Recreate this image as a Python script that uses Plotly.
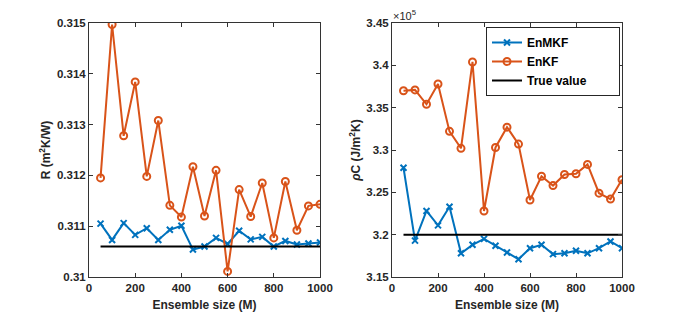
import plotly.graph_objects as go

ensemble = [50, 100, 150, 200, 250, 300, 350, 400, 450, 500,
            550, 600, 650, 700, 750, 800, 850, 900, 950, 1000]

r_enkf = [0.31195, 0.31497, 0.31278, 0.31384, 0.31198, 0.31308, 0.31141, 0.31118, 0.31217, 0.31120,
          0.31210, 0.31011, 0.31172, 0.31119, 0.31185, 0.31077, 0.31188, 0.31092, 0.31140, 0.31143]
r_enmkf = [0.31105, 0.31073, 0.31106, 0.31083, 0.31096, 0.31073, 0.31093, 0.31101, 0.31054, 0.31060,
           0.31077, 0.31065, 0.31091, 0.31074, 0.31079, 0.31060, 0.31071, 0.31064, 0.31066, 0.31068]
r_true = 0.3106

# rho*C values in units of 1e5 J/m^2K
c_enkf = [3.370, 3.371, 3.354, 3.378, 3.322, 3.302, 3.404, 3.228, 3.303, 3.327,
          3.307, 3.241, 3.269, 3.258, 3.271, 3.272, 3.283, 3.249, 3.242, 3.265]
c_enmkf = [3.279, 3.193, 3.228, 3.211, 3.233, 3.178, 3.188, 3.195, 3.187, 3.179,
           3.171, 3.184, 3.188, 3.177, 3.178, 3.181, 3.178, 3.184, 3.192, 3.184]
c_true = 3.20

series_names = ["EnMKF", "EnKF", "True value"]

x_ticks = [0, 200, 400, 600, 800, 1000]
r_ticks = [0.310, 0.311, 0.312, 0.313, 0.314, 0.315]
r_ticklabels = ["0.31", "0.311", "0.312", "0.313", "0.314", "0.315"]
c_ticks = [3.15, 3.20, 3.25, 3.30, 3.35, 3.40, 3.45]
c_ticklabels = ["3.15", "3.2", "3.25", "3.3", "3.35", "3.4", "3.45"]

BLUE = "#0072BD"
ORANGE = "#D95319"
# the page body adds an 8px offset, so the figure is drawn 8px smaller
OFF = 8
W, H = 688 - OFF, 313 - OFF
PAD = "\u00a0" * 8  # right padding inside the legend box (MATLAB-like)

def px_x(v):
    return (v - OFF) / W

def px_y(v):
    return 1 - (v - OFF) / H

fig = go.Figure()

def add_panel(xa, ya, enmkf, enkf, true_val, show):
    fig.add_trace(go.Scatter(x=ensemble, y=enmkf, mode="lines+markers", name=series_names[0] + PAD,
                             line=dict(color=BLUE, width=2),
                             marker=dict(symbol="x-thin-open", size=6, color=BLUE, line=dict(width=2, color=BLUE)),
                             xaxis=xa, yaxis=ya, showlegend=show))
    fig.add_trace(go.Scatter(x=ensemble, y=enkf, mode="lines+markers", name=series_names[1] + PAD,
                             line=dict(color=ORANGE, width=2),
                             marker=dict(symbol="circle-open", size=7, color=ORANGE, line=dict(width=2, color=ORANGE)),
                             xaxis=xa, yaxis=ya, showlegend=show))
    fig.add_trace(go.Scatter(x=[ensemble[0], ensemble[-1]], y=[true_val, true_val], mode="lines",
                             name=series_names[2] + PAD, line=dict(color="black", width=2),
                             xaxis=xa, yaxis=ya, showlegend=show))

add_panel("x", "y", r_enmkf, r_enkf, r_true, False)
add_panel("x2", "y2", c_enmkf, c_enkf, c_true, True)

ydom = [px_y(277), px_y(23)]
axis_common = dict(showline=True, linecolor="#333333", linewidth=1, mirror="ticks",
                   ticks="inside", ticklen=4, tickcolor="#333333", showgrid=False, zeroline=False,
                   automargin=False,
                   tickfont=dict(family="Liberation Sans, Arial", size=11.5, color="#262626", weight="bold"))
title_font = dict(family="Liberation Sans, Arial", size=12, color="#262626", weight="bold")

fig.update_layout(
    width=W, height=H, margin=dict(l=0, r=0, t=0, b=0, autoexpand=False),
    paper_bgcolor="white", plot_bgcolor="white",
    xaxis=dict(domain=[px_x(89), px_x(320)], range=[0, 1000], tickvals=x_ticks, anchor="y",
               title=dict(text="Ensemble size (M)", font=title_font, standoff=7), **axis_common),
    yaxis=dict(domain=ydom, range=[0.31, 0.315], tickvals=r_ticks, ticktext=r_ticklabels, anchor="x",
               title=dict(text="R (m<sup>2</sup>K/W)", font=title_font, standoff=3), **axis_common),
    xaxis2=dict(domain=[px_x(392), px_x(622)], range=[0, 1000], tickvals=x_ticks, anchor="y2",
                title=dict(text="Ensemble size (M)", font=title_font, standoff=7), **axis_common),
    yaxis2=dict(domain=ydom, range=[3.15, 3.45], tickvals=c_ticks, ticktext=c_ticklabels, anchor="x2",
                title=dict(text="<i>ρ</i>C (J/m<sup>2</sup>K)", font=title_font, standoff=3), **axis_common),
    legend=dict(x=px_x(486), y=px_y(27), xanchor="left", yanchor="top",
                bgcolor="white", bordercolor="#262626", borderwidth=1,
                font=dict(family="Liberation Sans, Arial", size=12, color="black", weight="bold"),
                tracegroupgap=0, itemwidth=30),
    annotations=[dict(text="×10<sup>5</sup>", x=px_x(391), y=px_y(15), xref="paper", yref="paper",
                      xanchor="left", yanchor="middle", showarrow=False,
                      font=dict(family="Liberation Sans, Arial", size=11, color="#262626"))],
)

fig.write_html("out.html")
